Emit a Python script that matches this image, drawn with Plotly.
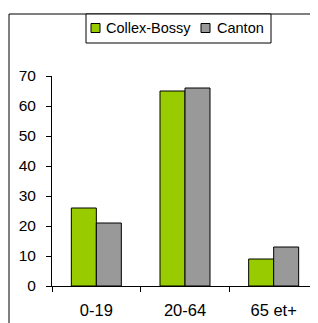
import plotly.graph_objects as go

categories = ["0-19", "20-64", "65 et+"]
collex_bossy = [26, 65, 9]
canton = [21, 66, 13]
series_names = ["Collex-Bossy", "Canton"]
series_colors = ["#99CC00", "#999999"]
y_ticks = [0, 10, 20, 30, 40, 50, 60, 70]

# page body has an 8px default margin, so the figure is 8px smaller
OFF = 8
W, H = 318 - OFF, 323 - OFF
L, R, T, B = 52 - OFF, 0, 76 - OFF, 323 - 286
pw, ph = W - L - R, H - T - B

def px_x(p):  # window pixel -> paper x
    return (p - OFF - L) / pw

def px_y(p):  # window pixel -> paper y
    return (H - B - (p - OFF)) / ph

FONT = "Liberation Sans, Arial, sans-serif"

fig = go.Figure()
for name, vals, col in zip(series_names, [collex_bossy, canton], series_colors):
    fig.add_trace(go.Bar(x=categories, y=vals, name=name,
                         marker=dict(color=col, line=dict(color="#000000", width=1))))

fig.update_layout(
    width=W, height=H,
    margin=dict(l=L, r=R, t=T, b=B, pad=0),
    paper_bgcolor="white", plot_bgcolor="white",
    barmode="group", bargap=0.436, bargroupgap=0,
    font=dict(family=FONT, color="#000000"),
    showlegend=False,
)
fig.update_xaxes(showline=True, linecolor="#000000", linewidth=1,
                 ticks="outside", ticklen=5, tickcolor="#000000",
                 tickson="boundaries", showgrid=False,
                 tickfont=dict(size=16.5, family=FONT), ticklabelstandoff=9)
fig.update_yaxes(range=[0, 70], tickvals=y_ticks, showline=True,
                 linecolor="#000000", linewidth=1, ticks="outside",
                 ticklen=5, tickcolor="#000000", showgrid=False,
                 zeroline=False, tickfont=dict(size=15.5, family=FONT),
                 ticklabelstandoff=7)
# outer chart border
fig.add_shape(type="rect", xref="paper", yref="paper",
              x0=px_x(9), x1=px_x(340), y0=px_y(340), y1=px_y(14),
              line=dict(color="#000000", width=1), fillcolor="rgba(0,0,0,0)",
              layer="below")
# legend box
fig.add_shape(type="rect", xref="paper", yref="paper",
              x0=px_x(86), x1=px_x(271), y0=px_y(43), y1=px_y(14),
              line=dict(color="#000000", width=1), fillcolor="white")
legend_sym_x = [91, 201]
legend_txt_x = [105, 216]
for name, col, sx, tx in zip(series_names, series_colors, legend_sym_x, legend_txt_x):
    fig.add_shape(type="rect", xref="paper", yref="paper",
                  x0=px_x(sx), x1=px_x(sx + 9), y0=px_y(32.5), y1=px_y(23.5),
                  line=dict(color="#000000", width=1), fillcolor=col)
    fig.add_annotation(text=name, xref="paper", yref="paper",
                       x=px_x(tx), y=px_y(28.5), xanchor="left", yanchor="middle",
                       showarrow=False, font=dict(size=14.5, family=FONT),
                       borderpad=0)
fig.write_html("out.html")
